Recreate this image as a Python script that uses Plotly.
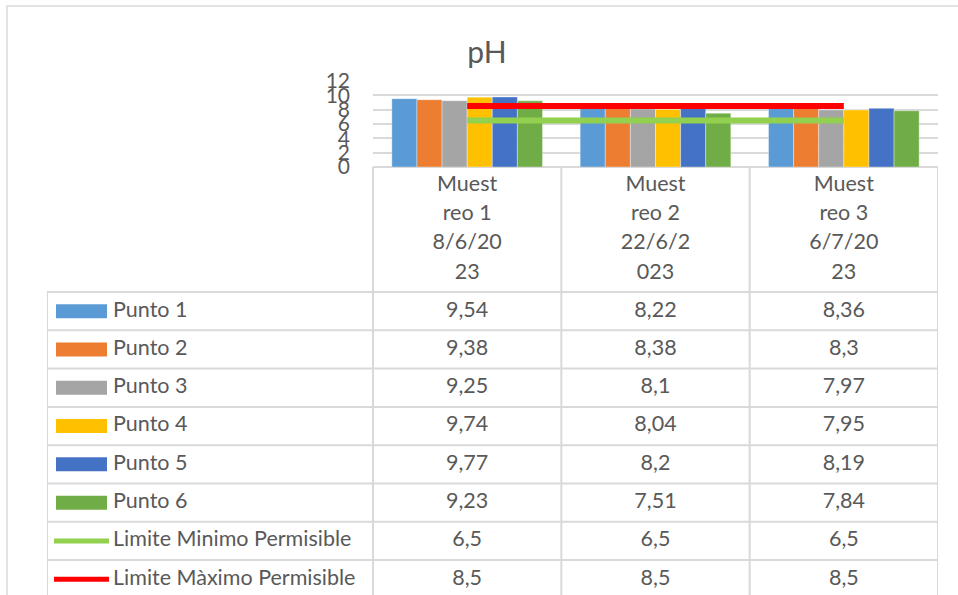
import plotly.graph_objects as go

# ---- data -------------------------------------------------------------
categories = ["Muestreo 1 8/6/2023", "Muestreo 2 22/6/2023", "Muestreo 3 6/7/2023"]
# header text as it wraps inside the narrow table cells
category_lines = [
    ["Muest", "reo 1", "8/6/20", "23"],
    ["Muest", "reo 2", "22/6/2", "023"],
    ["Muest", "reo 3", "6/7/20", "23"],
]

punto_1 = [9.54, 8.22, 8.36]
punto_2 = [9.38, 8.38, 8.30]
punto_3 = [9.25, 8.10, 7.97]
punto_4 = [9.74, 8.04, 7.95]
punto_5 = [9.77, 8.20, 8.19]
punto_6 = [9.23, 7.51, 7.84]
limite_minimo = [6.5, 6.5, 6.5]
limite_maximo = [8.5, 8.5, 8.5]

bar_names = ["Punto 1", "Punto 2", "Punto 3", "Punto 4", "Punto 5", "Punto 6"]
bar_values = [punto_1, punto_2, punto_3, punto_4, punto_5, punto_6]
bar_colors = ["#5B9BD5", "#ED7D31", "#A5A5A5", "#FFC000", "#4472C4", "#70AD47"]

line_names = ["Limite Minimo Permisible", "Limite Màximo Permisible"]
line_values = [limite_minimo, limite_maximo]
line_colors = ["#92D050", "#FF0000"]

y_ticks = [0, 2, 4, 6, 8, 10, 12]

# ---- layout helpers (pixel -> paper) ----------------------------------
W, H = 958, 595
TEXT = "#595959"
GRID = "#D9D9D9"
FONT = "Lato"


def px_x(p):
    return p / W


def px_y(p):
    return 1 - p / H


PLOT_L, PLOT_R, PLOT_T, PLOT_B = 373, 938, 81, 167
TABLE_L = 47
CAT_W = (PLOT_R - PLOT_L) / len(categories)      # px per category
ROW_H = 38.3                                    # px per table row
HEADER_H = (292 - PLOT_B) / ROW_H               # header height in row units
LABEL_W = (PLOT_L - TABLE_L) / CAT_W            # label column in category units
X_LEFT = -0.5 - LABEL_W
Y_BOTTOM = (H - 292) / ROW_H

x_idx = list(range(len(categories)))

fig = go.Figure()

# ---- chart: clustered bars + limit lines ------------------------------
for name, vals, col in zip(bar_names, bar_values, bar_colors):
    fig.add_trace(go.Bar(
        x=x_idx, y=vals, name=name,
        marker=dict(color=col, line=dict(width=0.6, color="rgba(255,255,255,0.6)")),
        xaxis="x", yaxis="y", showlegend=False, hoverinfo="skip",
    ))

for name, vals, col in zip(line_names, line_values, line_colors):
    fig.add_trace(go.Scatter(
        x=x_idx, y=vals, name=name, mode="lines",
        line=dict(color=col, width=6),
        xaxis="x", yaxis="y", showlegend=False, hoverinfo="skip",
    ))

# ---- data table below the chart ---------------------------------------
def fmt(v):
    s = f"{v:.2f}".rstrip("0").rstrip(".")
    return s.replace(".", ",")


tx, ty, tt, tp = [], [], [], []
LINE_SPACING = 29.3 / ROW_H
for j, lines in enumerate(category_lines):
    top = -HEADER_H + 18.5 / ROW_H
    for k, ln in enumerate(lines):
        tx.append(j)
        ty.append(top + k * LINE_SPACING)
        tt.append(ln)
        tp.append("middle center")

row_names = bar_names + line_names
row_values = bar_values + line_values
for i, (name, vals) in enumerate(zip(row_names, row_values)):
    yc = i + 0.5
    tx.append(X_LEFT + 66 / CAT_W)
    ty.append(yc)
    tt.append(name)
    tp.append("middle right")
    for j, v in enumerate(vals):
        tx.append(j)
        ty.append(yc)
        tt.append(fmt(v))
        tp.append("middle center")

fig.add_trace(go.Scatter(
    x=tx, y=ty, text=tt, textposition=tp, mode="text",
    textfont=dict(family=FONT, size=21.5, color=TEXT),
    xaxis="x2", yaxis="y2", showlegend=False, hoverinfo="skip", cliponaxis=False,
))

shapes = []
# grid of the table
n_rows = len(row_names)
for r in range(n_rows + 1):
    shapes.append(dict(type="line", xref="x2", yref="y2", x0=X_LEFT, x1=2.5, y0=r, y1=r,
                       line=dict(color=GRID, width=2)))
shapes.append(dict(type="line", xref="x2", yref="y2", x0=-0.5, x1=2.5, y0=-HEADER_H, y1=-HEADER_H,
                   line=dict(color=GRID, width=2)))
for xv in [-0.5 + j for j in range(len(categories) + 1)]:
    shapes.append(dict(type="line", xref="x2", yref="y2", x0=xv, x1=xv, y0=-HEADER_H, y1=n_rows,
                       line=dict(color=GRID, width=2)))
shapes.append(dict(type="line", xref="x2", yref="y2", x0=X_LEFT, x1=X_LEFT, y0=0, y1=n_rows,
                   line=dict(color=GRID, width=2)))

# legend keys inside the table
for i, col in enumerate(bar_colors):
    yc = i + 0.5
    shapes.append(dict(type="rect", xref="x2", yref="y2",
                       x0=X_LEFT + 9 / CAT_W, x1=X_LEFT + 60 / CAT_W,
                       y0=yc - 7 / ROW_H, y1=yc + 7 / ROW_H,
                       fillcolor=col, line=dict(width=0)))
for i, col in enumerate(line_colors):
    yc = len(bar_colors) + i + 0.5
    shapes.append(dict(type="line", xref="x2", yref="y2",
                       x0=X_LEFT + 7 / CAT_W, x1=X_LEFT + 62 / CAT_W, y0=yc, y1=yc,
                       line=dict(color=col, width=5)))

# outer frame of the chart area
shapes.append(dict(type="rect", xref="paper", yref="paper",
                   x0=px_x(7), x1=1.02, y0=-0.02, y1=px_y(6),
                   line=dict(color=GRID, width=1.5), fillcolor="rgba(0,0,0,0)", layer="below"))

fig.update_layout(
    width=W, height=H, autosize=False,
    margin=dict(l=0, r=0, t=0, b=0, pad=0, autoexpand=False),
    paper_bgcolor="white", plot_bgcolor="white",
    font=dict(family=FONT, color=TEXT),
    title=dict(text="pH", x=px_x(487), y=px_y(52), xanchor="center", yanchor="middle",
               xref="paper", yref="paper", automargin=False,
               font=dict(family=FONT, size=30, color=TEXT)),
    barmode="group", bargap=0.2, bargroupgap=0,
    xaxis=dict(domain=[px_x(PLOT_L), px_x(PLOT_R)], range=[-0.5, 2.5],
               showticklabels=False, showgrid=False, zeroline=False, showline=False,
               automargin=False, fixedrange=True),
    yaxis=dict(domain=[px_y(PLOT_B), px_y(PLOT_T)], range=[0, 12],
               tickvals=y_ticks, ticktext=[str(t) for t in y_ticks],
               tickfont=dict(family=FONT, size=21, color=TEXT),
               showgrid=True, gridcolor=GRID, gridwidth=1.5,
               zeroline=True, zerolinecolor=GRID, zerolinewidth=2,
               showline=False, ticks="", ticklabelstandoff=22,
               automargin=False, fixedrange=True),
    xaxis2=dict(domain=[px_x(TABLE_L), px_x(PLOT_R)], range=[X_LEFT, 2.5], anchor="y2",
                visible=False, automargin=False, fixedrange=True),
    yaxis2=dict(domain=[0, px_y(PLOT_B)], range=[Y_BOTTOM, -HEADER_H], anchor="x2",
                visible=False, automargin=False, fixedrange=True),
    shapes=shapes,
)

fig.write_html("out.html")
